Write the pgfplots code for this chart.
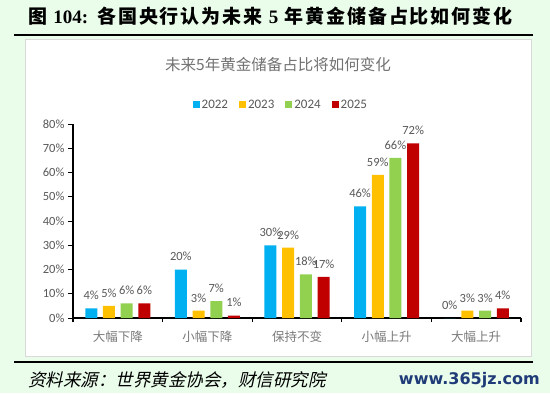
\documentclass[border=0pt]{standalone}
\usepackage{pgfplots}
\pgfplotsset{compat=1.18}
\usepackage{fontspec}
\setmainfont{Carlito}
\newfontfamily\cjk{Noto Sans CJK SC}
\newfontfamily\cjkt[LetterSpace=10]{Noto Sans CJK SC}
\newfontfamily\cjkit[FakeSlant=0.22]{Noto Sans CJK SC}
\newfontfamily\tnr{Liberation Serif}
\newfontfamily\wm{DejaVu Sans}
\definecolor{bg}{HTML}{EAFCEA}
\definecolor{c22}{HTML}{00B0F0}
\definecolor{c23}{HTML}{FFC000}
\definecolor{c24}{HTML}{92D050}
\definecolor{c25}{HTML}{C00000}
\definecolor{txt}{HTML}{595959}
\definecolor{navy}{HTML}{1F3C78}
\begin{document}
\begin{tikzpicture}[x=1bp,y=1bp]
\fill[bg] (0,0) rectangle (550,393);
% panel
\fill[white] (25,37) rectangle (531,354);
\draw[draw=black!15, line width=1bp] (25,37) rectangle (531,354);
% lines
\draw[black, line width=2bp] (14,358) -- (533,358);
\draw[black, line width=2.2bp] (14,31) -- (533,31);
% main title
\node[anchor=west, inner sep=0] at (28,377) {\fontsize{19bp}{21bp}\selectfont\cjkt\bfseries 图 {\tnr\bfseries 104:}\hspace{9bp}各国央行认为未来 {\tnr\bfseries 5} 年黄金储备占比如何变化};
% chart title
\node[text=txt!85, inner sep=0] at (278,328) {\fontsize{15.5bp}{17bp}\selectfont\cjk 未来5年黄金储备占比将如何变化};
% source
\node[anchor=west, inner sep=0] at (28,13) {\fontsize{17.5bp}{19bp}\selectfont\cjkit 资料来源：世界黄金协会，财信研究院};
\node[anchor=east, inner sep=0, text=navy] at (540,13) {\fontsize{16bp}{18bp}\selectfont\wm\bfseries www.365jz.com};
\begin{axis}[
  at={(73bp,75bp)}, anchor=south west,
  scale only axis, width=448bp, height=194bp,
  xmin=-0.5, xmax=4.5, ymin=0, ymax=80,
  ybar=5.7bp, bar width=12bp,
  axis x line*=bottom, axis y line*=left,
  axis line style={-, black, line width=1.3bp},
  xtick={0,1,2,3,4},
  xticklabels={大幅下降,小幅下降,保持不变,小幅上升,大幅上升},
  major x tick style={draw=none},
  minor xtick={-0.5,0.5,1.5,2.5,3.5,4.5},
  minor x tick style={black, line width=1.3bp},
  tick align=outside,
  minor tick length=4bp, major tick length=5bp,
  y tick style={black, line width=1bp},
  xticklabel style={font=\fontsize{12.5bp}{14bp}\selectfont\cjk, text=txt!80, yshift=-4bp},
  ytick={0,10,20,30,40,50,60,70,80},
  yticklabels={0\%,10\%,20\%,30\%,40\%,50\%,60\%,70\%,80\%},
  yticklabel style={font=\fontsize{12.5bp}{14bp}\selectfont, text=txt},
  /pgf/number format/assume math mode=true,
  nodes near coords={\pgfmathprintnumber{\pgfplotspointmeta}\%},
  every node near coord/.append style={font=\fontsize{12.5bp}{14bp}\selectfont, text=txt, yshift=5bp},
  legend columns=4,
  legend style={at={(0.464,1.098)}, anchor=center, draw=none, fill=none,
    font=\fontsize{13bp}{15bp}\selectfont, text=txt,
    /tikz/every even column/.append style={column sep=9bp}},
  legend image code/.code={\fill[#1] (0bp,-3.5bp) rectangle (7bp,3.5bp);},
]
\addplot[fill=c22, draw=none] coordinates {(0,4) (1,20) (2,30) (3,46) (4,0)};
\addplot[fill=c23, draw=none] coordinates {(0,5) (1,3) (2,29) (3,59) (4,3)};
\addplot[fill=c24, draw=none] coordinates {(0,6) (1,7) (2,18) (3,66) (4,3)};
\addplot[fill=c25, draw=none] coordinates {(0,6) (1,1) (2,17) (3,72) (4,4)};
\legend{2022,2023,2024,2025}
\end{axis}
\end{tikzpicture}
\end{document}
